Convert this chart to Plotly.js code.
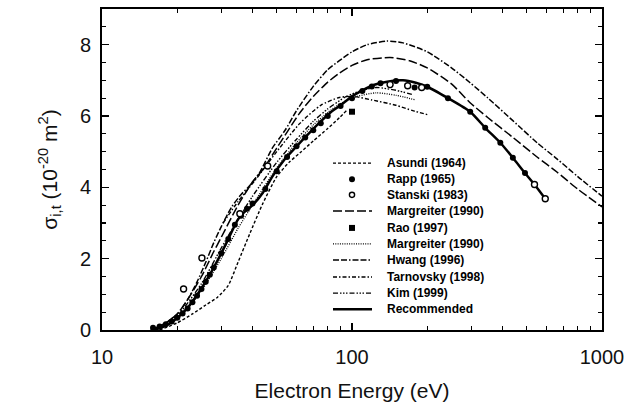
<!DOCTYPE html>
<html>
<head>
<meta charset="utf-8">
<script src="https://cdn.plot.ly/plotly-3.0.1.min.js"></script>
<style>
  html, body { margin: 0; padding: 0; background: #fff; }
  #chart { width: 628px; height: 402px; }
</style>
</head>
<body>
<div id="chart"></div>
<script>
// Total ionization cross section vs electron energy (eV), sigma in 1e-20 m^2

// Recommended curve
const recE = [15.7, 17, 18, 19, 20, 21, 22, 23, 24, 25, 27, 29, 31, 33, 35, 37, 40, 44, 48, 54, 60, 68, 75, 82, 90, 100, 110, 122, 140, 160, 180, 200, 242, 297, 341, 392, 440, 492, 537, 593];
const recS = [0, 0.05, 0.12, 0.22, 0.34, 0.48, 0.62, 0.8, 0.98, 1.17, 1.55, 1.95, 2.35, 2.75, 3.1, 3.3, 3.5, 3.85, 4.3, 4.8, 5.15, 5.55, 5.85, 6.1, 6.3, 6.55, 6.72, 6.87, 6.97, 7.0, 6.93, 6.82, 6.5, 6.12, 5.67, 5.25, 4.83, 4.4, 4.08, 3.68];

// Asundi (1964)
const asuE = [17, 20, 23, 26, 29, 32, 35, 39, 44, 50, 56, 62, 70, 80, 89, 95];
const asuS = [0, 0.2, 0.45, 0.7, 0.92, 1.25, 1.9, 2.7, 3.55, 4.3, 4.7, 4.97, 5.3, 5.65, 5.95, 6.15];

// Rapp (1965)
const rappE = [16, 17, 18, 19, 20, 21, 22, 23, 24, 25, 26, 27, 28, 30, 32, 34, 36, 38, 40, 45, 50, 55, 60, 65, 70, 75, 80, 90, 100, 110, 120, 130, 150, 178, 200, 242, 297, 341, 392, 440, 492];
const rappS = [0.06, 0.1, 0.16, 0.24, 0.34, 0.46, 0.6, 0.78, 0.96, 1.15, 1.35, 1.55, 1.75, 2.15, 2.55, 2.95, 3.2, 3.4, 3.55, 3.95, 4.45, 4.85, 5.15, 5.4, 5.6, 5.8, 6.0, 6.28, 6.5, 6.7, 6.83, 6.92, 6.98, 6.8, 6.82, 6.5, 6.12, 5.67, 5.25, 4.83, 4.4];

// Stanski (1983)
const stanE = [21.2, 25.1, 35.6, 46, 142, 167, 190, 537, 593];
const stanS = [1.15, 2.02, 3.26, 4.6, 6.88, 6.85, 6.8, 4.08, 3.68];

// Margreiter (1990), long dash
const mar1E = [15.7, 18, 20, 22, 25, 28, 30, 35, 40, 44, 50, 55, 62, 70, 80, 89, 100, 115, 142, 170, 200, 250, 296, 350, 440, 550, 660, 800, 1000];
const mar1S = [0, 0.2, 0.45, 0.85, 1.5, 2.2, 2.6, 3.5, 4.15, 4.5, 5.1, 5.55, 6.1, 6.55, 6.95, 7.2, 7.42, 7.58, 7.64, 7.55, 7.35, 6.9, 6.38, 5.95, 5.4, 4.85, 4.43, 3.95, 3.45];

// Rao (1997)
const raoE = [100];
const raoS = [6.12];

// Margreiter (1990), dotted
const mar2E = [16, 20, 25, 30, 35, 40, 50, 60, 70, 80, 90, 105, 125, 150, 180];
const mar2S = [0, 0.3, 1.1, 2.0, 2.85, 3.5, 4.55, 5.25, 5.75, 6.1, 6.35, 6.55, 6.65, 6.58, 6.45];

// Hwang (1996)
const hwaE = [15.7, 17, 18, 20, 22, 24, 26, 28, 30, 33, 36, 39, 43, 48, 54, 60, 70, 80, 89, 100, 115, 138, 160, 200, 250, 296, 350, 440, 550, 660, 800, 1000];
const hwaS = [0, 0.1, 0.2, 0.45, 0.85, 1.35, 1.9, 2.45, 2.9, 3.45, 3.8, 4.05, 4.45, 5.1, 5.6, 6.15, 6.83, 7.3, 7.55, 7.8, 8.0, 8.1, 8.05, 7.8, 7.35, 6.94, 6.5, 5.87, 5.25, 4.8, 4.3, 3.75];

// Tarnovsky (1998)
const tarE = [30.5, 35, 41, 50, 62, 75, 89, 101, 120, 150, 175, 200];
const tarS = [3.0, 3.6, 4.2, 5.0, 5.8, 6.3, 6.52, 6.55, 6.45, 6.3, 6.15, 6.04];

// Kim (1999)
const kimE = [17, 20, 25, 30, 35, 40, 50, 60, 70, 80, 95, 110, 125, 150, 175];
const kimS = [0.1, 0.4, 1.3, 2.3, 3.1, 3.75, 4.7, 5.35, 5.85, 6.2, 6.55, 6.72, 6.8, 6.72, 6.6];

// Legend entries, top to bottom
const legendNames = ['Asundi (1964)', 'Rapp (1965)', 'Stanski (1983)', 'Margreiter (1990)', 'Rao (1997)',
  'Margreiter (1990)', 'Hwang (1996)', 'Tarnovsky (1998)', 'Kim (1999)', 'Recommended'];

// Axis ticks
const xMajor = [10, 100, 1000];
const xMajorText = ['10', '100', '1000'];
const xMinor = [20, 30, 40, 50, 60, 70, 80, 90, 200, 300, 400, 500, 600, 700, 800, 900];
const yMajor = [0, 2, 4, 6, 8];

const FONT = 'Liberation Sans, Arial, Helvetica, sans-serif';

const dashes = {
  asundi: '3px,2px',
  mar1: '9px,3px',
  mar2: '1px,1.3px',
  hwang: '6px,2px,6px,2px,1.5px,2px',
  tarn: '4px,2px,1.5px,2px',
  kim: '5px,2px,1.5px,1.5px,1.5px,1.5px,1.5px,2px'
};

function curve(x, y, dash, width) {
  return { x: x, y: y, type: 'scatter', mode: 'lines', showlegend: false,
    line: { color: '#000', width: width, dash: dash, shape: 'spline', smoothing: 0.6 },
    hoverinfo: 'skip' };
}
function points(x, y, symbol, size, fill, lw) {
  return { x: x, y: y, type: 'scatter', mode: 'markers', showlegend: false,
    marker: { symbol: symbol, size: size, color: fill, line: { color: '#000', width: lw } },
    hoverinfo: 'skip' };
}

const traces = [
  curve(asuE, asuS, dashes.asundi, 1.4),
  curve(mar1E, mar1S, dashes.mar1, 1.5),
  curve(mar2E, mar2S, dashes.mar2, 1.3),
  curve(hwaE, hwaS, dashes.hwang, 1.5),
  curve(tarE, tarS, dashes.tarn, 1.4),
  curve(kimE, kimS, dashes.kim, 1.4),
  curve(recE, recS, 'solid', 2.5),
  points(rappE, rappS, 'circle', 6, '#000', 0),
  points(stanE, stanS, 'circle', 6, '#fff', 1.4),
  points(raoE, raoS, 'square', 6, '#000', 0)
];

// Hand-built key in paper coordinates
const rowY = [0.520, 0.470, 0.421, 0.371, 0.318, 0.268, 0.218, 0.165, 0.115, 0.065];
const sampleX0 = 0.462, sampleX1 = 0.540, markX = 0.500, textX = 0.566;
const sampleKind = [
  { dash: dashes.asundi, w: 1.4 }, { mark: 'filled' }, { mark: 'open' }, { dash: dashes.mar1, w: 1.5 },
  { mark: 'square' }, { dash: dashes.mar2, w: 1.3 }, { dash: dashes.hwang, w: 1.5 },
  { dash: dashes.tarn, w: 1.4 }, { dash: dashes.kim, w: 1.4 }, { dash: 'solid', w: 2.5 }
];

const shapes = [];
const annotations = [];
const pxX = 1 / 500, pxY = 1 / 321;
sampleKind.forEach((k, i) => {
  const y = rowY[i];
  if (k.dash) {
    shapes.push({ type: 'line', xref: 'paper', yref: 'paper', x0: sampleX0, x1: sampleX1, y0: y, y1: y,
      line: { color: '#000', width: k.w, dash: k.dash } });
  } else if (k.mark === 'square') {
    shapes.push({ type: 'rect', xref: 'paper', yref: 'paper', x0: markX - 3 * pxX, x1: markX + 3 * pxX,
      y0: y - 3 * pxY, y1: y + 3 * pxY, fillcolor: '#000', line: { width: 0 } });
  } else {
    const r = k.mark === 'open' ? 2.6 : 3;
    shapes.push({ type: 'circle', xref: 'paper', yref: 'paper', x0: markX - r * pxX, x1: markX + r * pxX,
      y0: y - r * pxY, y1: y + r * pxY, fillcolor: k.mark === 'open' ? '#fff' : '#000',
      line: { color: '#000', width: k.mark === 'open' ? 1.4 : 0 } });
  }
  annotations.push({ xref: 'paper', yref: 'paper', x: textX, y: y, xanchor: 'left', yanchor: 'middle',
    text: '<b>' + legendNames[i] + '</b>', showarrow: false, font: { family: FONT, size: 12, color: '#000' } });
});

const axisCommon = {
  showline: true, linecolor: '#000', linewidth: 2, mirror: 'allticks',
  ticks: 'inside', tickcolor: '#000', tickwidth: 1.5, ticklen: 7,
  showgrid: false, zeroline: false,
  tickfont: { family: FONT, size: 20, color: '#111' }
};

const layout = {
  width: 628, height: 402,
  margin: { l: 102, r: 26, t: 9, b: 72, pad: 0 },
  paper_bgcolor: '#fff', plot_bgcolor: '#fff',
  showlegend: false,
  xaxis: Object.assign({}, axisCommon, {
    type: 'log', range: [1, 3],
    tickmode: 'array', tickvals: xMajor, ticktext: xMajorText,
    ticklabelstandoff: 8,
    minor: { tickmode: 'array', tickvals: xMinor, ticks: 'inside', ticklen: 4, tickcolor: '#000', tickwidth: 1.3 },
    title: { text: 'Electron Energy (eV)', font: { family: FONT, size: 21, color: '#111' }, standoff: 16 }
  }),
  yaxis: Object.assign({}, axisCommon, {
    range: [0, 9],
    tickmode: 'array', tickvals: yMajor,
    ticklabelstandoff: 5,
    minor: { dtick: 0.5, ticks: 'inside', ticklen: 4, tickcolor: '#000', tickwidth: 1.3 },
    title: { text: '\u03c3<sub>i,t</sub> (10<sup>-20</sup> m<sup>2</sup>)', font: { family: FONT, size: 21, color: '#111' }, standoff: 17 }
  }),
  shapes: shapes,
  annotations: annotations
};

Plotly.newPlot('chart', traces, layout, { staticPlot: true, displayModeBar: false });
</script>
</body>
</html>
